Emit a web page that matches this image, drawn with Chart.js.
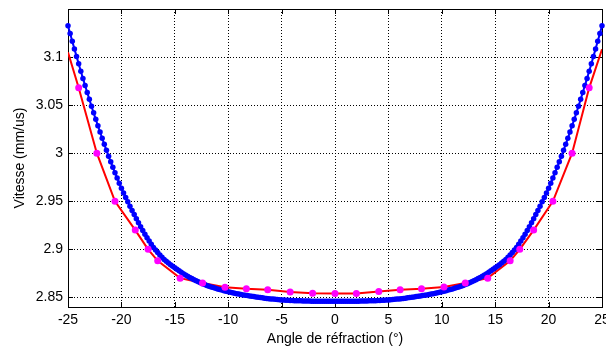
<!DOCTYPE html>
<html>
<head>
<meta charset="utf-8">
<script src="https://cdn.jsdelivr.net/npm/chart.js@4.4.0/dist/chart.umd.min.js"></script>
<style>
	html, body { margin: 0; padding: 0; background: #fff; }
</style>
</head>
<body>
<canvas id="myChart" width="606" height="347"></canvas>
<script>

// theoretical curve (blue dots), angle in degrees
var blueAngles = [
	-25, -24.8, -24.6, -24.4, -24.2, -24, -23.8, -23.6, -23.4, -23.2,
	-23, -22.8, -22.6, -22.4, -22.2, -22, -21.8, -21.6, -21.4, -21.2,
	-21, -20.8, -20.6, -20.4, -20.2, -20, -19.8, -19.6, -19.4, -19.2,
	-19, -18.8, -18.6, -18.4, -18.2, -18, -17.8, -17.6, -17.4, -17.2,
	-17, -16.8, -16.6, -16.4, -16.2, -16, -15.8, -15.6, -15.4, -15.2,
	-15, -14.8, -14.6, -14.4, -14.2, -14, -13.8, -13.6, -13.4, -13.2,
	-13, -12.8, -12.6, -12.4, -12.2, -12, -11.8, -11.6, -11.4, -11.2,
	-11, -10.8, -10.6, -10.4, -10.2, -10, -9.8, -9.6, -9.4, -9.2,
	-9, -8.8, -8.6, -8.4, -8.2, -8, -7.8, -7.6, -7.4, -7.2,
	-7, -6.8, -6.6, -6.4, -6.2, -6, -5.8, -5.6, -5.4, -5.2,
	-5, -4.8, -4.6, -4.4, -4.2, -4, -3.8, -3.6, -3.4, -3.2,
	-3, -2.8, -2.6, -2.4, -2.2, -2, -1.8, -1.6, -1.4, -1.2,
	-1, -0.8, -0.6, -0.4, -0.2,
	0,
	0.2, 0.4, 0.6, 0.8, 1,
	1.2, 1.4, 1.6, 1.8, 2, 2.2, 2.4, 2.6, 2.8, 3,
	3.2, 3.4, 3.6, 3.8, 4, 4.2, 4.4, 4.6, 4.8, 5,
	5.2, 5.4, 5.6, 5.8, 6, 6.2, 6.4, 6.6, 6.8, 7,
	7.2, 7.4, 7.6, 7.8, 8, 8.2, 8.4, 8.6, 8.8, 9,
	9.2, 9.4, 9.6, 9.8, 10, 10.2, 10.4, 10.6, 10.8, 11,
	11.2, 11.4, 11.6, 11.8, 12, 12.2, 12.4, 12.6, 12.8, 13,
	13.2, 13.4, 13.6, 13.8, 14, 14.2, 14.4, 14.6, 14.8, 15,
	15.2, 15.4, 15.6, 15.8, 16, 16.2, 16.4, 16.6, 16.8, 17,
	17.2, 17.4, 17.6, 17.8, 18, 18.2, 18.4, 18.6, 18.8, 19,
	19.2, 19.4, 19.6, 19.8, 20, 20.2, 20.4, 20.6, 20.8, 21,
	21.2, 21.4, 21.6, 21.8, 22, 22.2, 22.4, 22.6, 22.8, 23,
	23.2, 23.4, 23.6, 23.8, 24, 24.2, 24.4, 24.6, 24.8, 25
];

var blueSpeed = [
	3.1325, 3.1244, 3.1164, 3.1085, 3.1007, 3.0930, 3.0853, 3.0778, 3.0704, 3.0631,
	3.0560, 3.0489, 3.0420, 3.0352, 3.0285, 3.0220, 3.0155, 3.0092, 3.0030, 2.9969,
	2.9910, 2.9853, 2.9797, 2.9742, 2.9688, 2.9635, 2.9587, 2.9540, 2.9494, 2.9449,
	2.9405, 2.9361, 2.9318, 2.9276, 2.9235, 2.9195, 2.9157, 2.9121, 2.9086, 2.9052,
	2.9020, 2.8993, 2.8967, 2.8941, 2.8917, 2.8894, 2.8875, 2.8857, 2.8840, 2.8824,
	2.8808, 2.8792, 2.8777, 2.8762, 2.8747, 2.8733, 2.8720, 2.8708, 2.8696, 2.8684,
	2.8672, 2.8662, 2.8652, 2.8642, 2.8633, 2.8624, 2.8616, 2.8609, 2.8602, 2.8595,
	2.8588, 2.8582, 2.8576, 2.8570, 2.8564, 2.8558, 2.8553, 2.8548, 2.8543, 2.8538,
	2.8534, 2.8530, 2.8526, 2.8522, 2.8519, 2.8515, 2.8511, 2.8508, 2.8505, 2.8501,
	2.8498, 2.8495, 2.8492, 2.8489, 2.8487, 2.8484, 2.8482, 2.8480, 2.8478, 2.8476,
	2.8474, 2.8472, 2.8471, 2.8469, 2.8468, 2.8467, 2.8466, 2.8465, 2.8465, 2.8464,
	2.8463, 2.8463, 2.8462, 2.8462, 2.8461, 2.8461, 2.8461, 2.8461, 2.8460, 2.8460,
	2.8460, 2.8460, 2.8460, 2.8460, 2.8460,
	2.8460,
	2.8460, 2.8460, 2.8460, 2.8460, 2.8460,
	2.8460, 2.8460, 2.8461, 2.8461, 2.8461, 2.8461, 2.8462, 2.8462, 2.8463, 2.8463,
	2.8464, 2.8465, 2.8465, 2.8466, 2.8467, 2.8468, 2.8469, 2.8471, 2.8472, 2.8474,
	2.8476, 2.8478, 2.8480, 2.8482, 2.8484, 2.8487, 2.8489, 2.8492, 2.8495, 2.8498,
	2.8501, 2.8505, 2.8508, 2.8511, 2.8515, 2.8519, 2.8522, 2.8526, 2.8530, 2.8534,
	2.8538, 2.8543, 2.8548, 2.8553, 2.8558, 2.8564, 2.8570, 2.8576, 2.8582, 2.8588,
	2.8595, 2.8602, 2.8609, 2.8616, 2.8624, 2.8633, 2.8642, 2.8652, 2.8662, 2.8672,
	2.8684, 2.8696, 2.8708, 2.8720, 2.8733, 2.8747, 2.8762, 2.8777, 2.8792, 2.8808,
	2.8824, 2.8840, 2.8857, 2.8875, 2.8894, 2.8917, 2.8941, 2.8967, 2.8993, 2.9020,
	2.9052, 2.9086, 2.9121, 2.9157, 2.9195, 2.9235, 2.9276, 2.9318, 2.9361, 2.9405,
	2.9449, 2.9494, 2.9540, 2.9587, 2.9635, 2.9688, 2.9742, 2.9797, 2.9853, 2.9910,
	2.9969, 3.0030, 3.0092, 3.0155, 3.0220, 3.0285, 3.0352, 3.0420, 3.0489, 3.0560,
	3.0631, 3.0704, 3.0778, 3.0853, 3.0930, 3.1007, 3.1085, 3.1164, 3.1244, 3.1325
];

// measured points (magenta)
var measAngles = [-24.0, -22.3, -20.6, -18.7, -17.5, -16.6, -14.5, -12.4, -10.3, -8.3, -6.3, -4.2, -2.1, 0,
	2.0, 4.1, 6.1, 8.1, 10.2, 12.2, 14.3, 16.4, 17.3, 18.6, 20.4, 22.2, 23.8];
var measSpeed = [3.068, 3.000, 2.950, 2.920, 2.900, 2.888, 2.870, 2.865, 2.8605, 2.859, 2.858, 2.8555, 2.8542, 2.854,
	2.854, 2.856, 2.858, 2.859, 2.8607, 2.865, 2.870, 2.888, 2.900, 2.920, 2.950, 3.000, 3.068];

// red line through the measures, extended to the edges
var redAngles = [-25, -24.0, -22.3, -20.6, -18.7, -17.5, -16.6, -14.5, -12.4, -10.3, -8.3, -6.3, -4.2, -2.1, 0,
	2.0, 4.1, 6.1, 8.1, 10.2, 12.2, 14.3, 16.4, 17.3, 18.6, 20.4, 22.2, 23.8, 25];
var redSpeed = [3.105, 3.068, 3.000, 2.950, 2.920, 2.900, 2.888, 2.870, 2.865, 2.8605, 2.859, 2.858, 2.8555, 2.8542, 2.854,
	2.854, 2.856, 2.858, 2.859, 2.8607, 2.865, 2.870, 2.888, 2.900, 2.920, 2.950, 3.000, 3.068, 3.108];

var xTicks = [-25, -20, -15, -10, -5, 0, 5, 10, 15, 20, 25];
var yTicks = [2.85, 2.9, 2.95, 3, 3.05, 3.1];
var yTickLabels = ['2.85', '2.9', '2.95', '3', '3.05', '3.1'];

function zip(xs, ys) {
	return xs.map(function(x, i) { return {x: x, y: ys[i]}; });
}

var font = {family: '"Liberation Sans", Arial, sans-serif', size: 14};

// matlab style box + inward ticks
var axesBox = {
	id: 'axesBox',
	beforeDatasetsDraw: function(chart) {
		var c = chart.ctx, a = chart.chartArea;
		var xs = chart.scales.x, ys = chart.scales.y;
		c.save();
		c.strokeStyle = '#000';
		c.lineWidth = 1;
		c.beginPath();
		xTicks.forEach(function(v) {
			var p = Math.round(xs.getPixelForValue(v)) + 0.5;
			c.moveTo(p, a.bottom); c.lineTo(p, a.bottom - 5);
			c.moveTo(p, a.top); c.lineTo(p, a.top + 5);
		});
		yTicks.forEach(function(v) {
			var p = Math.round(ys.getPixelForValue(v)) + 0.5;
			c.moveTo(a.left, p); c.lineTo(a.left + 5, p);
			c.moveTo(a.right, p); c.lineTo(a.right - 5, p);
		});
		c.stroke();
		c.strokeRect(Math.round(a.left) + 0.5, Math.round(a.top) + 0.5,
			Math.round(a.right - a.left), Math.round(a.bottom - a.top));
		c.restore();
	}
};

var ctx = document.getElementById('myChart').getContext('2d');
var chart = new Chart(ctx, {
	type: 'scatter',
	data: {
		datasets: [{
			label: 'mesures',
			data: zip(measAngles, measSpeed),
			showLine: false,
			pointRadius: 3.5,
			pointBackgroundColor: '#ff00ff',
			pointBorderColor: '#ff00ff',
			pointBorderWidth: 0,
			order: 0,
			clip: false
		}, {
			label: 'theorie',
			data: zip(blueAngles, blueSpeed),
			showLine: true,
			borderColor: '#0000ff',
			borderWidth: 2,
			pointRadius: 2.75,
			pointBackgroundColor: '#0000ff',
			pointBorderWidth: 0,
			order: 1,
			clip: false
		}, {
			label: 'interp',
			data: zip(redAngles, redSpeed),
			showLine: true,
			borderColor: '#ff0000',
			borderWidth: 2,
			pointRadius: 0,
			order: 2
		}]
	},
	options: {
		responsive: false,
		animation: false,
		devicePixelRatio: 1,
		layout: { padding: { top: 9, right: 4, left: 0, bottom: 0 } },
		plugins: {
			legend: { display: false },
			tooltip: { enabled: false }
		},
		scales: {
			x: {
				type: 'linear',
				min: -25,
				max: 25,
				afterBuildTicks: function(s) { s.ticks = xTicks.map(function(v) { return {value: v}; }); },
				afterFit: function(s) { s.height = 40; s.paddingLeft = 0; s.paddingRight = 0; },
				ticks: {
					font: font, color: '#000', padding: 5, maxRotation: 0, autoSkip: false,
					callback: function(v) { return String(v); }
				},
				grid: { color: '#000', lineWidth: 1, drawTicks: false },
				border: { display: false, dash: [1, 2] },
				title: {
					display: true, text: 'Angle de réfraction (°)', color: '#000',
					font: {family: font.family, size: 14, lineHeight: 1},
					padding: { top: 0, bottom: 0.5 }
				}
			},
			y: {
				type: 'linear',
				min: 2.84,
				max: 3.15,
				afterBuildTicks: function(s) { s.ticks = yTicks.map(function(v) { return {value: v}; }); },
				afterFit: function(s) { s.width = 68; s.paddingTop = 0; s.paddingBottom = 0; },
				ticks: {
					font: font, color: '#000', padding: 5, autoSkip: false,
					callback: function(v, i) { return yTickLabels[i]; }
				},
				grid: { color: '#000', lineWidth: 1, drawTicks: false },
				border: { display: false, dash: [1, 2] },
				title: {
					display: true, text: 'Vitesse (mm/us)', color: '#000',
					font: {family: font.family, size: 14, lineHeight: 1.2},
					padding: { top: 11.5, bottom: 0 }
				}
			}
		}
	},
	plugins: [axesBox]
});

</script>
</body>
</html>
